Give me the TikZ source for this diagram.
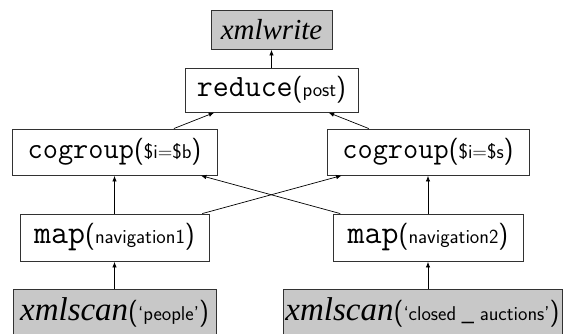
\documentclass[tikz,border=0pt]{standalone}
\usepackage{fontspec}
\newfontfamily\itserif{Liberation Serif}
\usetikzlibrary{arrows.meta}
\newcommand{\fs}[1]{\fontsize{#1}{#1}\selectfont}
\newcommand{\opx}[4]{{\fs{#2}\ttfamily #1}{\fs{27}\sffamily(}{\fs{#4}\sffamily #3}{\fs{27}\sffamily)}}
\newcommand{\scanx}[2]{{\fs{33}\itserif\itshape xmlscan}{\fs{27}\sffamily(}{\fs{#2}\sffamily #1}{\fs{27}\sffamily)}}
\definecolor{boxgray}{RGB}{200,200,200}
\definecolor{edgegray}{RGB}{50,50,50}
\tikzset{
  opbox/.style={draw=edgegray, line width=0.9pt, fill=white, inner sep=0pt, anchor=center},
  srcbox/.style={opbox, fill=boxgray},
  flow/.style={draw=black, line width=0.7pt, -{Latex[length=5.5pt,width=4.5pt]}, shorten >=0.5pt}
}
\begin{document}
\begin{tikzpicture}[x=1pt,y=-1pt]
\useasboundingbox (0,0) rectangle (563,333);
\node[srcbox, minimum width=121pt, minimum height=39pt] (xw) at (271.5,29.5) {\fs{29}\itserif\itshape xmlwrite};
\node[opbox, minimum width=173pt, minimum height=44pt] (red) at (271.5,90) {\opx{reduce}{31}{post}{20}};
\node[opbox, minimum width=205pt, minimum height=46pt] (cgl) at (114.5,152) {\opx{cogroup}{29.5}{\$i=\$b}{20}};
\node[opbox, minimum width=202pt, minimum height=46pt] (cgr) at (428,152) {\opx{cogroup}{29.5}{\$i=\$s}{20}};
\node[opbox, minimum width=189pt, minimum height=47pt] (mapl) at (114.5,237.5) {\opx{map}{33}{navigation1}{20}};
\node[opbox, minimum width=190pt, minimum height=47pt] (mapr) at (428,237.5) {\opx{map}{33}{navigation2}{20}};
\node[srcbox, minimum width=203pt, minimum height=47pt] (scl) at (114.5,312.5) {\scanx{`people'}{20}};
\node[srcbox, minimum width=279pt, minimum height=47pt] (scr) at (422.5,312.5) {\scanx{`closed\;\_\;auctions'}{20}};
\draw[flow] (red) -- (xw);
\draw[flow] (cgl) -- (red);
\draw[flow] (cgr) -- (red);
\draw[flow] (mapl) -- (cgl);
\draw[flow] (mapr) -- (cgr);
\draw[flow] (mapl) -- (cgr);
\draw[flow] (mapr) -- (cgl);
\draw[flow] (scl) -- (mapl);
\draw[flow] (scr.north -| mapr.south) -- (mapr.south);
\end{tikzpicture}
\end{document}
